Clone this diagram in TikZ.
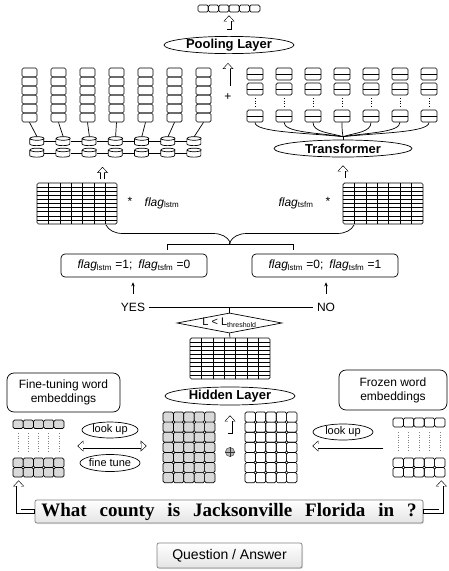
\documentclass[tikz,border=0pt]{standalone}
\usepackage{fontspec}
\setmainfont{Liberation Sans}
\newfontfamily\serifq{Liberation Serif}
\usetikzlibrary{arrows.meta,positioning,calc,shapes.geometric,shadows,decorations.pathreplacing}
\definecolor{cellgray}{HTML}{D9D9D9}
\definecolor{boxgray}{HTML}{E4E4E4}

\begin{document}
\begin{tikzpicture}[x=1pt, y=-1pt,
    every node/.style={font=\fontsize{12}{14}\selectfont},
    line width=0.7pt,
    cell/.style={draw, rounded corners=1.5pt},
    layer/.style={draw, ellipse, inner sep=0pt, font=\fontsize{13}{15}\selectfont\bfseries},
    tag/.style={draw, ellipse, inner sep=0pt, font=\fontsize{11}{13}\selectfont},
    flagbox/.style={draw, rounded corners=4pt, minimum width=146, minimum height=23},
    notebox/.style={draw, rounded corners=7pt, align=center, inner sep=0pt},
    lstm/.style={inner sep=0pt, minimum width=14, minimum height=9},
    hollow/.style 2 args={preaction={draw=black, line width=5pt, shorten <=#1-0.6pt, shorten >=#2,
                   -{Triangle[length=6pt, width=11pt, line width=0pt]}},
                 draw=white, line width=3.8pt, shorten <=#1, shorten >=#2+0.9pt,
                 -{Triangle[length=4.5pt, width=8.3pt, line width=0pt]}},
    hollowboth/.style 2 args={preaction={draw=black, line width=5pt, shorten <=#1, shorten >=#2,
                   {Triangle[length=6pt, width=11pt, line width=0pt]}-{Triangle[length=6pt, width=11pt, line width=0pt]}},
                 draw=white, line width=3.8pt, shorten <=#1+0.9pt, shorten >=#2+0.9pt,
                 {Triangle[length=4.5pt, width=8.3pt, line width=0pt]}-{Triangle[length=4.5pt, width=8.3pt, line width=0pt]}},
    arr/.style={-{Stealth[length=4pt, width=3.5pt]}, line width=0.6pt},
    btn/.style={draw=gray, rounded corners=2pt, top color=white, bottom color=boxgray,
                drop shadow={opacity=0.25, shadow xshift=1pt, shadow yshift=-1pt}}
  ]
  \useasboundingbox (0,0) rectangle (448,571);

  % output vector and pooling
  \foreach \i in {0,...,5}
    \draw[cell] (198+10.33*\i,5) rectangle ++(10.33,7);
  \node[inner sep=0, minimum width=62, minimum height=7] (out) at (229,8.5) {};
  \node[layer, minimum width=130, minimum height=16] (pool) at (229,45) {Pooling Layer};
  \draw[hollow={7pt}{3pt}] (pool) -- (out);
  \node (plus) at (228,97) {+};
  \draw[hollow={4pt}{9pt}] (plus) -- (plus |- pool.south);

  % lstm branch
  \foreach \i in {0,...,6} {
    \foreach \j in {0,...,5}
      \draw[cell] (22+29*\i, 68+9*\j) rectangle ++(15,9);
    \node[inner sep=0, minimum width=15, minimum height=54] (lc\i) at (29.5+29*\i, 95) {};
    \node[lstm] (cu\i) at (37+26.2*\i, 141.5) {};
    \node[lstm] (cd\i) at (37+26.2*\i, 153) {};
    \foreach \cy in {cu\i,cd\i}
      \draw[fill=white] (\cy.north west) ++(0,1.8) -- ++(0,5.4)
        arc[start angle=180, end angle=0, x radius=7, y radius=1.8] -- ++(0,-5.4)
        (\cy.north) ++(0,1.8) ellipse[x radius=7, y radius=1.8];
    \draw (lc\i.south) -- (cu\i.north);
  }
  \foreach \i [count=\j] in {0,...,5} {
    \draw (cu\i) -- (cu\j);
    \draw (cd\i) -- (cd\j);
  }

  % transformer branch
  \foreach \i in {0,...,6} {
    \foreach \yy in {68,83,110} {
      \draw[cell] (247+29*\i, \yy) rectangle ++(16,12);
      \draw (247+29*\i, \yy+6) -- ++(16,0);
    }
    \draw[dotted] (255+29*\i, 98) -- ++(0,9);
    \node[inner sep=0, minimum width=16, minimum height=12] (tb\i) at (255+29*\i, 116) {};
  }
  \node[layer, minimum width=138, minimum height=17] (tr) at (343,148.5) {Transformer};
  \coordinate (tjoin) at ($(tr.north)+(0,-3)$);
  \foreach \i in {0,...,6}
    \draw (tb\i.south) .. controls +(0,10) and +({(255+29*\i-343)*0.45},-4) .. (tjoin);
  \draw (tjoin) -- (tr.north);

  % weighted inputs
  \foreach \mx/\my/\nm in {37/183/lm, 343/183/tm, 190/338/hm} {
    \draw[rounded corners=1.5pt] (\mx,\my) rectangle ++(80,41);
    \foreach \c in {1,...,6} \draw[line width=0.6pt] (\mx+80/7*\c, \my) -- ++(0,41);
    \foreach \r in {1,...,9} \draw[line width=0.6pt] (\mx, \my+4.1*\r) -- ++(80,0);
    \node[inner sep=0, minimum width=80, minimum height=41] (\nm) at (\mx+40, \my+20.5) {};
  }
  \coordinate (lin) at ($(cd2.south)!0.5!(cd3.south)$);
  \draw[hollow={4pt}{9pt}] (lm.north -| lin) -- (lin);
  \draw[hollow={5pt}{8pt}] (tm.north -| tr.south) -- (tr.south);
  \node (s1) at (130,201) {*};
  \node (fl) at (162,203) {\textit{flag}\textsubscript{lstm}};
  \node (ft) at (296,203) {\textit{flag}\textsubscript{tsfm}};
  \node (s2) at (328,201) {*};

  % switch
  \coordinate (btip) at (230,242);
  \draw[decorate, decoration={brace, mirror, amplitude=17pt}] (106,225) -- (354,225);
  \node[flagbox] (lf) at (134,265.5) {\textit{flag}\textsubscript{lstm} =1;\enspace \textit{flag}\textsubscript{tsfm} =0};
  \node[flagbox] (rf) at (325,265.5) {\textit{flag}\textsubscript{lstm} =0;\enspace \textit{flag}\textsubscript{tsfm} =1};
  \coordinate (bar) at ($(lf.north)!0.5!(rf.north)+(0,-9)$);
  \draw ($(lf.north)+(33,-4)$) |- (bar) -| ($(rf.north)+(-32,-4)$);
  \draw[line width=1.2pt] (btip) -- (bar);
  \node (yes) at (133,307) {YES};
  \node (no) at (326,307) {NO};
  \draw (yes) -- (no);
  \draw[arr, shorten <=5, shorten >=5] (yes.north) -- (yes.north |- lf.south);
  \draw[arr, shorten <=5, shorten >=5] (no.north) -- (no.north |- rf.south);
  \node[draw, diamond, aspect=5, inner sep=0, minimum width=105, minimum height=20,
        font=\fontsize{11}{13}\selectfont] (dia) at (229.5,323)
        {L < L\textsubscript{\fontsize{7}{8}\selectfont threshold}};
  \draw (dia.north) -- (dia.north |- yes);
  \draw (dia.south) -- (hm.north);

  % embeddings
  \node[layer, minimum width=130, minimum height=18] (hl) at (230,396) {Hidden Layer};
  \node[notebox, minimum width=113, minimum height=39] (fb) at (63.5,392.5) {Fine-tuning word\\embeddings};
  \node[notebox, minimum width=108, minimum height=40] (zb) at (393,390) {Frozen word\\embeddings};
  \foreach \c in {0,...,4} {
    \draw[cell, fill=cellgray] (13+10.2*\c, 420) rectangle ++(10.2,8.5);
    \draw[dotted, gray, line width=0.5pt] (18.1+10.2*\c, 433) -- ++(0,19);
    \draw[cell, fill=cellgray] (13+10.2*\c, 458) rectangle ++(10.2,9.5);
    \draw[cell, fill=cellgray] (13+10.2*\c, 467.5) rectangle ++(10.2,9.5);
    \draw[cell] (393+10.4*\c, 418) rectangle ++(10.4,9);
    \draw[dotted, gray, line width=0.5pt] (398.2+10.4*\c, 432) -- ++(0,19);
    \draw[cell] (393+10.4*\c, 458) rectangle ++(10.4,9.5);
    \draw[cell] (393+10.4*\c, 467.5) rectangle ++(10.4,9.5);
  }
  \node[inner sep=0, minimum width=51, minimum height=57] (le) at (38.5,448.5) {};
  \node[inner sep=0, minimum width=52, minimum height=59] (re) at (419,447.5) {};
  \foreach \c in {0,...,4}
    \foreach \r in {0,...,6} {
      \draw[cell, fill=cellgray] (163+10.4*\c, 412+10.1*\r) rectangle ++(10.4,10.1);
      \draw[cell] (245+10.4*\c, 412+10.1*\r) rectangle ++(10.4,10.1);
    }
  \node[inner sep=0, minimum width=52, minimum height=71] (gl) at (189,447.5) {};
  \node[inner sep=0, minimum width=52, minimum height=71] (wr) at (271,447.5) {};
  \node[tag, minimum width=56, minimum height=16] (lu1) at (110,430) {look up};
  \node[tag, minimum width=60, minimum height=17] (ftn) at (110,463) {fine tune};
  \node[tag, minimum width=60, minimum height=16] (lu2) at (343,432) {look up};
  \draw[hollowboth={13pt}{16pt}] (le.east |- 0,446) -- (gl.west |- 0,446);
  \draw[hollow={10pt}{15pt}] (re.west |- 0,446) -- (wr.east |- 0,446);
  \node[circle, draw=gray!80!black, fill=gray!55, minimum size=9, inner sep=0] (op) at (230,452) {};
  \draw[gray!40!black, line width=0.5pt] (op.north) -- (op.south) (op.west) -- (op.east);
  \draw[hollow={14pt}{10pt}] (op) -- (hl.south);

  % question
  \node[btn, minimum width=388, minimum height=23, inner sep=0,
        font=\serifq\bfseries\fontsize{19}{21}\selectfont] (qb) at (229,511.5)
        {\spaceskip=0.68em\relax What county is Jacksonville Florida in ?};
  \coordinate (lein) at ($(le.south west)+(6,3)$);
  \coordinate (rein) at ($(re.south east)+(-4,3)$);
  \draw[hollow={0.6pt}{0pt}] (qb.west) -| (lein);
  \draw[hollow={0.6pt}{0pt}] (qb.east) -| (rein);
  \node[btn, minimum width=145, minimum height=25, font=\fontsize{14}{16}\selectfont] (qa) at (229.5,555.5) {Question / Answer};
\end{tikzpicture}
\end{document}
